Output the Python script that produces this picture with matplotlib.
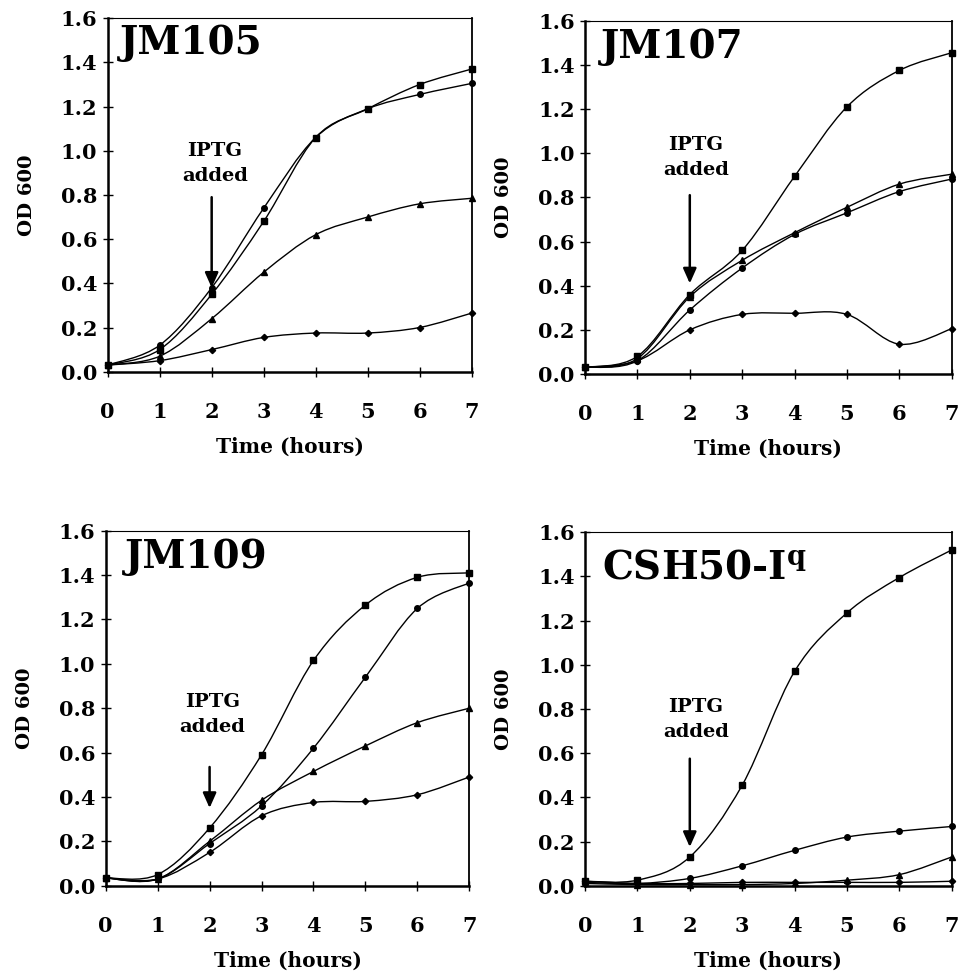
import matplotlib
matplotlib.use("Agg")
import matplotlib.pyplot as plt
from matplotlib.path import Path
from matplotlib.patches import PathPatch

plt.rcParams['font.family'] = 'DejaVu Serif'
plt.rcParams['font.weight'] = 'bold'
plt.rcParams['mathtext.fontset'] = 'dejavuserif'

# time points (hours)
hours = [0, 1, 2, 3, 4, 5, 6, 7]

# JM105
jm105_sq = [0.03, 0.10, 0.35, 0.68, 1.06, 1.19, 1.30, 1.37]
jm105_ci = [0.03, 0.12, 0.38, 0.74, 1.06, 1.19, 1.255, 1.305]
jm105_tr = [0.03, 0.07, 0.24, 0.45, 0.62, 0.70, 0.76, 0.785]
jm105_di = [0.03, 0.05, 0.10, 0.155, 0.175, 0.175, 0.20, 0.265]

# JM107
jm107_sq = [0.03, 0.08, 0.36, 0.56, 0.895, 1.21, 1.375, 1.455]
jm107_tr = [0.03, 0.07, 0.35, 0.515, 0.64, 0.755, 0.86, 0.905]
jm107_ci = [0.03, 0.06, 0.29, 0.48, 0.632, 0.73, 0.826, 0.883]
jm107_di = [0.03, 0.06, 0.20, 0.27, 0.275, 0.27, 0.135, 0.205]

# JM109
jm109_sq = [0.035, 0.05, 0.26, 0.59, 1.015, 1.265, 1.39, 1.41]
jm109_ci = [0.035, 0.03, 0.19, 0.36, 0.62, 0.94, 1.25, 1.365]
jm109_tr = [0.035, 0.03, 0.20, 0.385, 0.515, 0.63, 0.735, 0.80]
jm109_di = [0.035, 0.03, 0.15, 0.315, 0.375, 0.38, 0.41, 0.49]

# CSH50-Iq
csh_sq = [0.02, 0.025, 0.13, 0.455, 0.97, 1.235, 1.395, 1.52]
csh_ci = [0.015, 0.01, 0.033, 0.09, 0.16, 0.22, 0.247, 0.268]
csh_tr = [0.01, 0.005, 0.005, 0.005, 0.01, 0.025, 0.05, 0.13]
csh_di = [0.02, 0.01, 0.01, 0.015, 0.015, 0.015, 0.015, 0.02]

titles = ['JM105', 'JM107', 'JM109', r'CSH50-I$^{\mathbf{q}}$']
yticks = [0.0, 0.2, 0.4, 0.6, 0.8, 1.0, 1.2, 1.4, 1.6]


def smooth_path(x, y):
    # excel-like smoothed line: bezier through the points
    verts = [(x[0], y[0])]
    codes = [Path.MOVETO]
    n = len(x)
    for i in range(n - 1):
        i0 = max(i - 1, 0)
        i3 = min(i + 2, n - 1)
        c1 = (x[i] + (x[i + 1] - x[i0]) / 6, y[i] + (y[i + 1] - y[i0]) / 6)
        c2 = (x[i + 1] - (x[i3] - x[i]) / 6, y[i + 1] - (y[i3] - y[i]) / 6)
        verts += [c1, c2, (x[i + 1], y[i + 1])]
        codes += [Path.CURVE4] * 3
    return Path(verts, codes)


panels = [
    dict(rect=[0.1122, 0.6176, 0.379, 0.3636], title=titles[0], tpos=(0.24, 1.49),
         series=[(jm105_sq, 's'), (jm105_ci, 'o'), (jm105_tr, '^'), (jm105_di, 'D')],
         arrow=(0.79, 0.38), txt=(2.06, 1.04)),
    dict(rect=[0.6094, 0.6152, 0.382, 0.3635], title=titles[1], tpos=(0.30, 1.48),
         series=[(jm107_sq, 's'), (jm107_tr, '^'), (jm107_ci, 'o'), (jm107_di, 'D')],
         arrow=(0.81, 0.41), txt=(2.12, 1.08)),
    dict(rect=[0.1101, 0.0888, 0.3788, 0.3652], title=titles[2], tpos=(0.37, 1.48),
         series=[(jm109_sq, 's'), (jm109_ci, 'o'), (jm109_tr, '^'), (jm109_di, 'D')],
         arrow=(0.535, 0.35), txt=(2.05, 0.87)),
    dict(rect=[0.6094, 0.0888, 0.382, 0.3636], title=titles[3], tpos=(0.32, 1.44),
         series=[(csh_sq, 's'), (csh_ci, 'o'), (csh_tr, '^'), (csh_di, 'D')],
         arrow=(0.575, 0.175), txt=(2.12, 0.85)),
]

msize = {'s': 4.2, 'o': 4.0, '^': 3.8, 'D': 3.2}

fig = plt.figure(figsize=(9.6, 9.72), dpi=100)

for p in panels:
    ax = fig.add_axes(p['rect'])
    for vals, m in p['series']:
        ax.add_patch(PathPatch(smooth_path(hours, vals), facecolor='none',
                               edgecolor='black', lw=1.0, clip_on=False))
        ax.plot(hours, vals, linestyle='none', marker=m, markersize=msize[m],
                color='black', clip_on=False, zorder=3)
    ax.set_xlim(0, 7)
    ax.set_ylim(0, 1.6)
    ax.set_xticks(hours)
    ax.set_yticks(yticks)
    ax.set_yticklabels(['%.1f' % v for v in yticks])
    ax.tick_params(direction='inout', length=7, width=1, labelsize=15)
    ax.tick_params(axis='x', pad=18)
    ax.tick_params(axis='y', pad=4)
    for s in ['left', 'bottom']:
        ax.spines[s].set_linewidth(1.8)
    ax.spines['right'].set_linewidth(1.3)
    ax.spines['top'].set_linewidth(0.8)
    ax.set_xlabel('Time (hours)', fontsize=14.5, fontweight='bold', labelpad=11)
    ax.set_ylabel('OD 600', fontsize=14, fontweight='bold', labelpad=18)
    ax.text(p['tpos'][0], p['tpos'][1], p['title'], fontsize=28, fontweight='bold',
            va='center', ha='left')
    ax.text(p['txt'][0], p['txt'][1], 'IPTG\nadded', fontsize=14, fontweight='bold',
            ha='center', va='top', linespacing=1.5)
    ax.annotate('', xy=(2, p['arrow'][1]), xytext=(2, p['arrow'][0]),
                arrowprops=dict(arrowstyle='-|>,head_width=0.4,head_length=0.9',
                                color='black', lw=1.8, shrinkA=0, shrinkB=0))

fig.savefig('out.png', dpi=100)
